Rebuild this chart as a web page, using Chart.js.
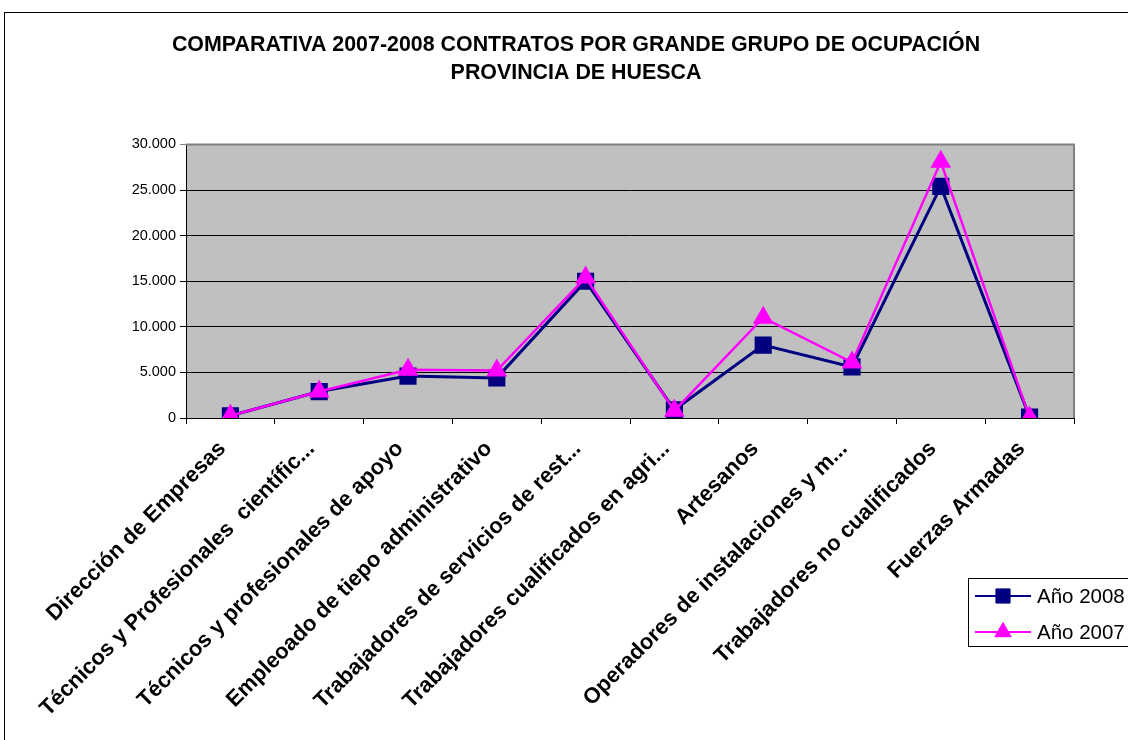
<!DOCTYPE html>
<html>
<head>
<meta charset="utf-8">
<script src="https://cdn.jsdelivr.net/npm/chart.js@4/dist/chart.umd.min.js"></script>
<style>
  html, body { margin: 0; padding: 0; background: #fff; }
  #wrap { width: 1128px; height: 740px; }
</style>
</head>
<body>
<div id="wrap"><canvas id="chart" width="1128" height="740"></canvas></div>
<script>
const categories = [
  "Dirección de Empresas",
  "Técnicos y Profesionales  científic...",
  "Técnicos y profesionales de apoyo",
  "Empleoado de tiepo administrativo",
  "Trabajadores de servicios de rest...",
  "Trabajadores cualificados en agri...",
  "Artesanos",
  "Operadores de instalaciones y m...",
  "Trabajadores no cualificados",
  "Fuerzas Armadas"
];
const year2008 = [250, 2900, 4600, 4400, 15000, 900, 8000, 5600, 25400, 100];
const year2007 = [250, 2900, 5300, 5200, 15400, 800, 11000, 6100, 28100, 50];
const titleLines = [
  "COMPARATIVA 2007-2008 CONTRATOS POR GRANDE GRUPO DE OCUPACIÓN",
  "PROVINCIA DE HUESCA"
];

const FONT = "'Liberation Sans', Arial, Helvetica, sans-serif";

function thousands(v) {
  return String(v).replace(/\B(?=(\d{3})+(?!\d))/g, ".");
}

// white page, outer frame and grey plot background
const backdrop = {
  id: "backdrop",
  beforeDraw(chart) {
    const { ctx, chartArea: a } = chart;
    ctx.save();
    ctx.fillStyle = "#fff";
    ctx.fillRect(0, 0, chart.width, chart.height);
    ctx.strokeStyle = "#000";
    ctx.lineWidth = 1;
    ctx.strokeRect(4.5, 12.5, chart.width, chart.height);
    ctx.fillStyle = "#c0c0c0";
    ctx.fillRect(a.left, a.top, a.right - a.left, a.bottom - a.top);
    ctx.restore();
  },
  afterDraw(chart) {
    // grey top and right edge of the plot area
    const { ctx, chartArea: a } = chart;
    ctx.save();
    ctx.strokeStyle = "#808080";
    ctx.lineWidth = 2;
    ctx.beginPath();
    ctx.moveTo(a.left, a.top);
    ctx.lineTo(a.right, a.top);
    ctx.lineTo(a.right, a.bottom);
    ctx.stroke();
    ctx.restore();
  }
};

// boxed legend at the bottom right, like the spreadsheet one
const boxLegend = {
  id: "boxLegend",
  afterDraw(chart) {
    const { ctx } = chart;
    const x = 968.5, y = 578.5, w = 170, h = 68;
    ctx.save();
    ctx.fillStyle = "#fff";
    ctx.fillRect(x, y, w, h);
    ctx.strokeStyle = "#000";
    ctx.lineWidth = 1;
    ctx.strokeRect(x, y, w, h);
    chart.data.datasets.forEach((ds, i) => {
      const ly = 596 + i * 36;
      ctx.strokeStyle = ds.borderColor;
      ctx.lineWidth = 2;
      ctx.beginPath();
      ctx.moveTo(975, ly);
      ctx.lineTo(1031, ly);
      ctx.stroke();
      ctx.fillStyle = ds.pointBackgroundColor;
      ctx.strokeStyle = ds.pointBorderColor;
      ctx.lineWidth = 1;
      Chart.helpers.drawPoint(ctx, {
        pointStyle: ds.pointStyle,
        radius: ds.pointRadius,
        borderWidth: 1
      }, 1003, ly);
      ctx.fillStyle = "#000";
      ctx.font = "20.5px " + FONT;
      ctx.textBaseline = "middle";
      ctx.textAlign = "left";
      ctx.fillText(ds.label, 1037, ly + 1);
    });
    ctx.restore();
  }
};

new Chart(document.getElementById("chart"), {
  type: "line",
  data: {
    labels: categories,
    datasets: [
      {
        label: "Año 2008",
        data: year2008,
        borderColor: "#000080",
        backgroundColor: "#000080",
        pointBackgroundColor: "#000080",
        pointBorderColor: "#000080",
        pointStyle: "rect",
        pointRadius: 10,
        borderWidth: 3,
        tension: 0,
        order: 1
      },
      {
        label: "Año 2007",
        data: year2007,
        borderColor: "#ff00ff",
        backgroundColor: "#ff00ff",
        pointBackgroundColor: "#ff00ff",
        pointBorderColor: "#ff00ff",
        pointStyle: "triangle",
        pointRadius: 9.5,
        borderWidth: 2.5,
        tension: 0,
        order: 0
      }
    ]
  },
  options: {
    responsive: false,
    animation: false,
    events: [],
    layout: { padding: { left: 24, right: 0, top: 0, bottom: 0 } },
    plugins: {
      legend: { display: false },
      tooltip: { enabled: false },
      title: {
        display: true,
        text: titleLines,
        color: "#000",
        font: { family: FONT, size: 21.4, weight: "bold", lineHeight: 1.32 },
        padding: { top: 31, bottom: 57 }
      }
    },
    scales: {
      x: {
        offset: true,
        grid: {
          offset: true,
          drawOnChartArea: false,
          drawTicks: true,
          tickLength: 6,
          color: "#000"
        },
        border: { color: "#000", width: 1 },
        ticks: {
          autoSkip: false,
          minRotation: 45,
          maxRotation: 45,
          padding: 12,
          labelOffset: -8,
          color: "#000",
          font: { family: FONT, size: 22, weight: "bold" }
        },
        afterFit(scale) { scale.height = 322; }
      },
      y: {
        min: 0,
        max: 30000,
        grid: {
          color: (c) => (c.tick && c.tick.value === 30000 ? "#808080" : "#000"),
          tickLength: 6
        },
        border: { color: "#000", width: 1 },
        ticks: {
          stepSize: 5000,
          padding: 4,
          color: "#000",
          font: { family: FONT, size: 14.5 },
          callback: (v) => thousands(v)
        },
        afterFit(scale) { scale.width = 162; }
      },
      // empty right-hand strip so the plot stops short of the frame
      spacer: {
        type: "linear",
        position: "right",
        display: true,
        grid: { display: false },
        border: { display: false },
        ticks: { display: false },
        afterFit(scale) { scale.width = 54; }
      }
    }
  },
  plugins: [backdrop, boxLegend]
});
</script>
</body>
</html>
